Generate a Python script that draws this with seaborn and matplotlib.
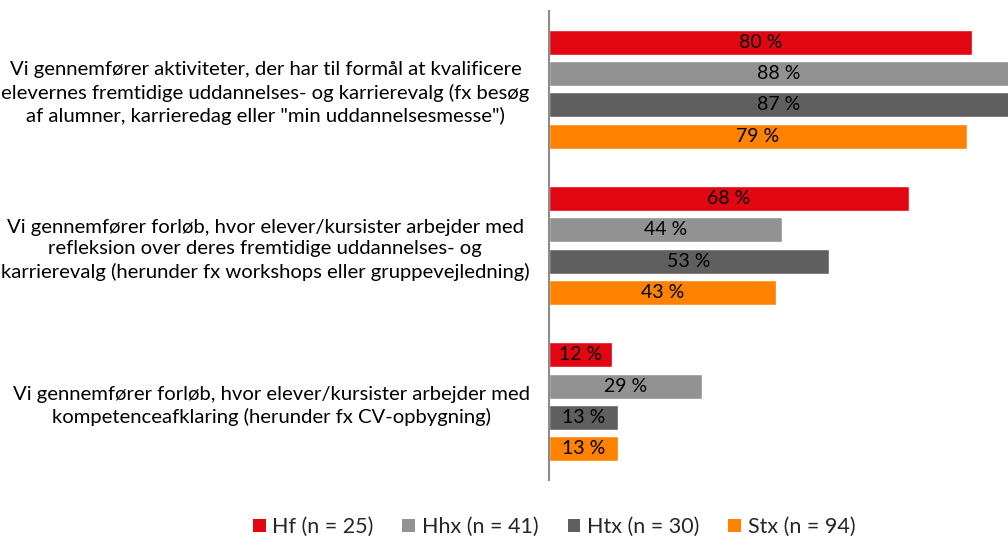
import matplotlib
matplotlib.use("Agg")
import matplotlib.pyplot as plt
import seaborn as sns
import pandas as pd
from matplotlib.patches import Patch

categories = [
    "Vi gennemfører aktiviteter, der har til formål at kvalificere\nelevernes fremtidige uddannelses- og karrierevalg (fx besøg\naf alumner, karrieredag eller \"min uddannelsesmesse\")",
    "Vi gennemfører forløb, hvor elever/kursister arbejder med\nrefleksion over deres fremtidige uddannelses- og\nkarrierevalg (herunder fx workshops eller gruppevejledning)",
    "Vi gennemfører forløb, hvor elever/kursister arbejder med\nkompetenceafklaring (herunder fx CV-opbygning)",
]
series = ["Hf (n = 25)", "Hhx (n = 41)", "Htx (n = 30)", "Stx (n = 94)"]
hf = [80, 68, 12]
hhx = [88, 44, 29]
htx = [87, 53, 13]
stx = [79, 43, 13]
colors = ["#E20613", "#929292", "#5F5F5F", "#FF8200"]

rows = []
for s, vals in zip(series, [hf, hhx, htx, stx]):
    for c, v in zip(categories, vals):
        rows.append({"cat": c, "series": s, "value": v})
df = pd.DataFrame(rows)

sns.set_style("white")
plt.rcParams["font.family"] = ["Lato", "DejaVu Sans"]

fig = plt.figure(figsize=(10.08, 5.42), dpi=100)
ax = fig.add_axes([549 / 1008, 1 - 480 / 542, 1 - 549 / 1008, (480 - 11) / 542])

sns.barplot(data=df, y="cat", x="value", hue="series", orient="h",
            palette=colors, saturation=1, width=0.8, gap=0.2, edgecolor="white",
            linewidth=1, ax=ax, legend=False)

for cont in ax.containers:
    ax.bar_label(cont, labels=[f"{v:.0f} %" for v in cont.datavalues],
                 label_type="center", fontsize=14, color="black")

ax.set_xlim(0, 86.8)
ax.set_ylim(2.5, -0.5)
ax.set_xlabel("")
ax.set_ylabel("")
ax.set_xticks([])
for sp in ["top", "right", "bottom"]:
    ax.spines[sp].set_visible(False)
ax.spines["left"].set_color("#8c8c8c")
ax.spines["left"].set_linewidth(1.5)
ax.tick_params(axis="y", length=0, pad=14)
for lbl in ax.get_yticklabels():
    lbl.set_fontsize(14.6)
    lbl.set_multialignment("center")
    lbl.set_color("black")
    lbl.set_linespacing(1.35)

handles = [Patch(facecolor=c, edgecolor="none") for c in colors]
fig.legend(handles, series, loc="center", bbox_to_anchor=(554 / 1008, 1 - 527 / 542),
           ncol=4, frameon=False, fontsize=15.5, handlelength=0.6, handleheight=0.6,
           handletextpad=0.3, columnspacing=1.35)

fig.savefig("out.png", dpi=100)
